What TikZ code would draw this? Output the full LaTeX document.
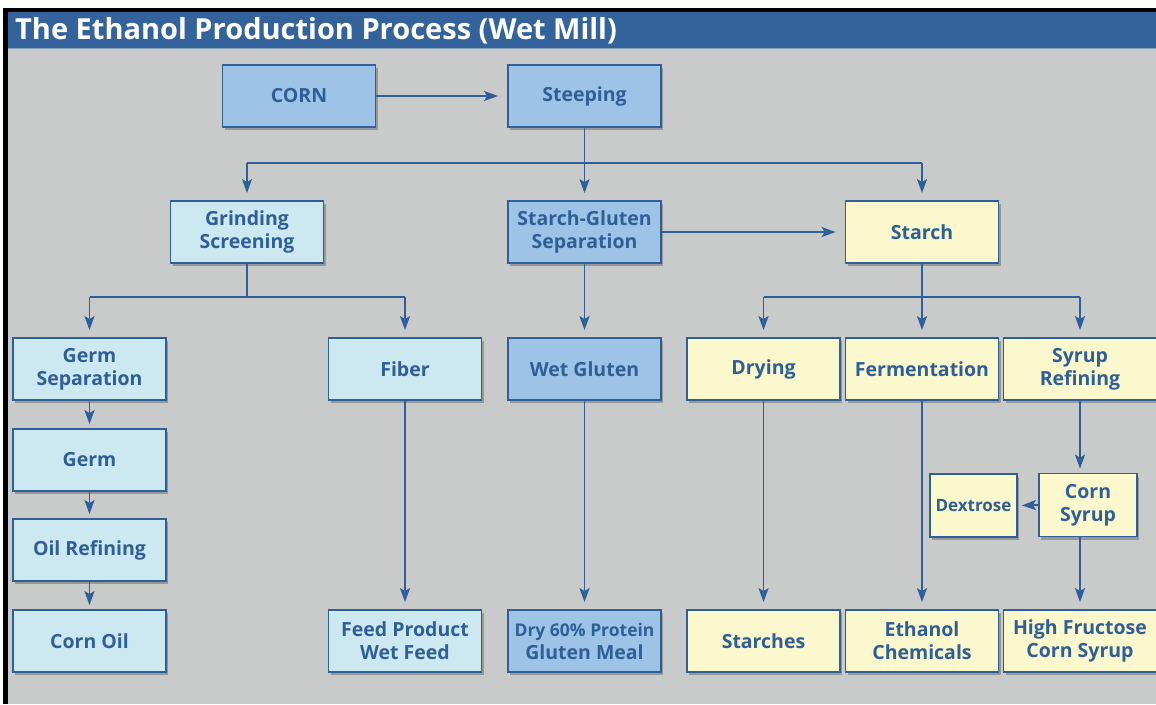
\documentclass[tikz,border=0pt]{standalone}
\usepackage{fontspec}
\setmainfont{Open Sans}
\usetikzlibrary{arrows.meta,shadows}
\definecolor{bgray}{HTML}{C9CACA}
\definecolor{tblue}{HTML}{33639A}
\definecolor{dblue}{HTML}{9DC3E6}
\definecolor{pblue}{HTML}{CCE8F0}
\definecolor{pyel}{HTML}{FAF8CC}
\definecolor{edgec}{HTML}{2E5F99}
\definecolor{txtc}{HTML}{2F5F96}
\tikzset{
  box/.style={draw=edgec, line width=1.8pt, text=txtc, align=center, inner sep=0pt,
    font=\bfseries\fontsize{19.5}{23}\selectfont, minimum width=153pt, minimum height=62pt,
    drop shadow={shadow xshift=2pt, shadow yshift=-3pt, opacity=0.25, fill=black}},
  bluebox/.style={box, fill=dblue},
  paleblue/.style={box, fill=pblue},
  yelbox/.style={box, fill=pyel},
  conn/.style={draw=edgec, line width=1.8pt},
  arr/.style={conn, -{Stealth[length=14pt,width=10pt,inset=3pt]}, shorten >=7pt},
}
\begin{document}
\begin{tikzpicture}[x=1pt,y=-1pt]
\useasboundingbox (0,0) rectangle (1156,704);
\fill[white] (0,0) rectangle (1156,704);
\fill[black] (3,8) rectangle (1156,704);
\fill[tblue] (8,12) rectangle (1156,48);
\fill[bgray] (8,48) rectangle (1156,704);
\draw[color=tblue!60!white, line width=1.5pt] (8,48.5) -- (1156,48.5);
\node[anchor=west, text=white, font=\bfseries\fontsize{29}{30}\selectfont, inner sep=0pt] (title) at (15,31) {The Ethanol Production Process (Wet Mill)};

% row 1
\node[bluebox] (corn) at (299,96) {CORN};
\node[bluebox] (steep) at (584.5,96) {Steeping};
% row 2
\node[paleblue] (grind) at (247,232) {Grinding\\Screening};
\node[bluebox] (sgs) at (584.5,232) {Starch-Gluten\\Separation};
\node[yelbox] (starch) at (922,232) {Starch};
% row 3
\node[paleblue] (germsep) at (89.5,369) {Germ\\Separation};
\node[paleblue] (fiber) at (405,369) {Fiber};
\node[bluebox] (wetg) at (584.5,369) {Wet Gluten};
\node[yelbox] (dry) at (763.5,369) {Drying};
\node[yelbox] (ferm) at (922,369) {Fermentation};
\node[yelbox] (syr) at (1080,369) {Syrup\\Refining};
% germ column
\node[paleblue] (germ) at (89.5,460) {Germ};
\node[paleblue] (oil) at (89.5,550) {Oil Refining};
\node[paleblue] (cornoil) at (89.5,641) {Corn Oil};
% middle syrup
\node[yelbox, minimum width=98pt, minimum height=63pt] (csyr) at (1088,505) {Corn\\Syrup};
\node[yelbox, minimum width=87pt, minimum height=63pt, font=\bfseries\fontsize{17}{19}\selectfont] (dex) at (973.5,505.5) {Dextrose};
% bottom row
\node[paleblue] (feed) at (405,641) {Feed Product\\Wet Feed};
\node[bluebox] (meal) at (584.5,641) {{\fontsize{17.5}{19}\selectfont Dry 60\% Protein}\\Gluten Meal};
\node[yelbox] (starches) at (763.5,641) {Starches};
\node[yelbox] (eth) at (922,641) {Ethanol\\Chemicals};
\node[yelbox] (hfcs) at (1080,641) {High Fructose\\Corn Syrup};

% connectors
\draw[arr, shorten >=9pt] (corn) -- (steep);
\coordinate (s1) at (584.5,163);
\draw[conn] (steep.south) -- (s1);
\draw[conn] (grind.north |- s1) -- (starch.north |- s1);
\draw[arr] (grind.north |- s1) -- (grind.north);
\draw[arr] (s1) -- (sgs.north);
\draw[arr] (starch.north |- s1) -- (starch.north);
\draw[arr, shorten >=9pt] (sgs) -- (starch);

\coordinate (g1) at (247,297);
\draw[conn] (grind.south) -- (g1);
\draw[conn] (germsep.north |- g1) -- (fiber.north |- g1);
\draw[arr] (germsep.north |- g1) -- (germsep.north);
\draw[arr] (fiber.north |- g1) -- (fiber.north);
\draw[arr] (sgs) -- (wetg);

\coordinate (t1) at (922,297);
\draw[conn] (starch.south) -- (t1);
\draw[conn] (dry.north |- t1) -- (syr.north |- t1);
\draw[arr] (dry.north |- t1) -- (dry.north);
\draw[arr] (t1) -- (ferm.north);
\draw[arr] (syr.north |- t1) -- (syr.north);

\draw[arr, shorten >=4pt] (germsep) -- (germ);
\draw[arr, shorten >=4pt] (germ) -- (oil);
\draw[arr, shorten >=4pt] (oil) -- (cornoil);

\draw[arr] (fiber) -- (feed);
\draw[arr] (wetg) -- (meal);
\draw[arr] (dry) -- (starches);
\draw[arr] (ferm) -- (eth);
\draw[arr, shorten >=4pt] (syr.south) -- (syr.south |- csyr.north);
\draw[arr, shorten >=4pt] (csyr.west) -- (dex.east);
\draw[arr] (syr.south |- csyr.south) -- (hfcs.north);
\end{tikzpicture}
\end{document}
